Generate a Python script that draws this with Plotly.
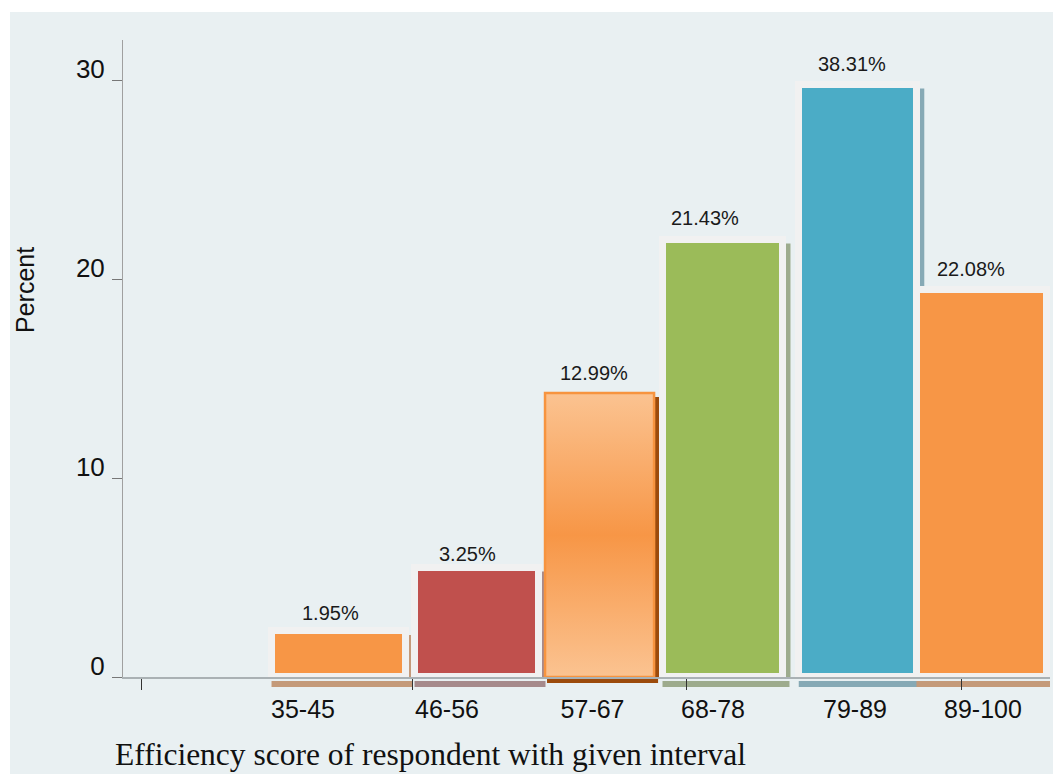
import plotly.graph_objects as go

# ---------------- data ----------------
categories = ["35-45", "46-56", "57-67", "68-78", "79-89", "89-100"]
bar_values = [2.31, 5.50, 14.27, 21.98, 29.77, 19.45]
bar_labels = ["1.95%", "3.25%", "12.99%", "21.43%", "38.31%", "22.08%"]
y_ticks = [0, 10, 20, 30]

# ---------------- layout / style ----------------
W, H = 1053, 774
ML, MR, MT, MB = 123, 3, 40, 97
PW, PH = W - ML - MR, H - MT - MB
x_range = [-1.68, 5.529]
y_range = [0, 32.01]
pxu = PW / (x_range[1] - x_range[0])
pyu = PH / (y_range[1] - y_range[0])

bar_pos = [0.0, 1.073, 2.026, 2.986, 4.036, 5.0]
bar_w = [1.042, 0.964, 0.848, 0.933, 0.914, 1.011]
gradient_bar = [False, False, True, False, False, False]
fill_colors = ["#f79646", "#c0504d", "#f79646", "#9bbb59", "#4bacc6", "#f79646"]
shadow_colors = ["#c49a7a", "#a68a8c", "#9c4b0c", "#9dab8d", "#86a9b5", "#c49a7a"]
frame_color = "#f1f1f1"
frame_px = 7
label_dx_px = [-9, -10, -6, -18, -6, -11]
label_dy_px = [5, 1, 7, 9, 8, 8]
ticklabel_dx_px = [-36, -30, -7, -10, -3, 1]
minor_ticks = [-1.54, 0.575, 2.706, 4.844]
panel_color = "#e9f0f2"
font_sans = "Arial, Liberation Sans, sans-serif"
font_serif = "Times New Roman, Liberation Serif, serif"

fig = go.Figure()

# framed bars (gradient bar drawn separately)
fig.add_trace(go.Bar(
    x=bar_pos, y=bar_values, width=bar_w,
    marker=dict(
        color=["rgba(0,0,0,0)" if g else c for g, c in zip(gradient_bar, fill_colors)],
        line=dict(color=frame_color, width=[0 if g else frame_px for g in gradient_bar]),
    ),
    hoverinfo="skip", showlegend=False,
))

shapes = [dict(type="rect", xref="paper", yref="paper",
               x0=(10 - ML) / PW, x1=(W - ML) / PW + 0.01,
               y0=-(MB + 5) / PH, y1=(PH + MT - 12) / PH,
               fillcolor=panel_color, line=dict(width=0), layer="below")]

for i in range(len(categories)):
    left = bar_pos[i] - bar_w[i] / 2
    right = bar_pos[i] + bar_w[i] / 2
    lw = 1 if gradient_bar[i] else frame_px / 2
    # drop shadow right of the bar
    shapes.append(dict(type="rect", xref="x", yref="y",
                       x0=left + 4 / pxu, x1=right + (lw + 4) / pxu,
                       y0=0, y1=bar_values[i] - 4 / pyu,
                       fillcolor=shadow_colors[i], line=dict(width=0), layer="below"))
    # shadow strip under the axis
    if gradient_bar[i]:
        y0, y1 = 0, -6
    else:
        y0, y1 = -4, -10
    shapes.append(dict(type="rect", xref="x", yref="paper", ysizemode="pixel", yanchor=0,
                       x0=left - lw / pxu + 3 / pxu, x1=right + (lw + 3) / pxu,
                       y0=y0, y1=y1,
                       fillcolor=shadow_colors[i], line=dict(width=0), layer="below"))
    if gradient_bar[i]:
        fig.add_trace(go.Scatter(
            x=[left, right, right, left, left],
            y=[0, 0, bar_values[i], bar_values[i], 0],
            mode="lines", fill="toself",
            fillgradient=dict(type="vertical",
                              colorscale=[[0, "#fbc391"], [0.5, "#f79646"], [1, "#fbc391"]]),
            line=dict(color="#f7943f", width=2.5),
            hoverinfo="skip", showlegend=False,
        ))

annotations = []
for i in range(len(categories)):
    annotations.append(dict(
        x=bar_pos[i], y=bar_values[i], xref="x", yref="y",
        text=bar_labels[i], showarrow=False, xanchor="center", yanchor="bottom",
        xshift=label_dx_px[i], yshift=label_dy_px[i],
        font=dict(family=font_sans, size=20, color="#1a1a1a"),
    ))

annotations.append(dict(
    x=(25 - ML) / PW, y=(PH + MT - 290) / PH, xref="paper", yref="paper",
    text="Percent", textangle=-90, showarrow=False, xanchor="center", yanchor="middle",
    font=dict(family=font_sans, size=25, color="#111111"),
))
annotations.append(dict(
    x=(113 - ML) / PW, y=(PH + MT - 735) / PH, xref="paper", yref="paper",
    text="Efficiency score of respondent with given interval", showarrow=False,
    xanchor="left", yanchor="top",
    font=dict(family=font_serif, size=31.5, color="#111111"),
))

tick_pos = [p + d / pxu for p, d in zip(bar_pos, ticklabel_dx_px)]

fig.update_layout(
    width=W, height=H,
    margin=dict(l=ML, r=MR, t=MT, b=MB, pad=0),
    paper_bgcolor="white", plot_bgcolor="rgba(0,0,0,0)",
    shapes=shapes, annotations=annotations,
    bargap=0, showlegend=False,
    xaxis=dict(
        range=x_range, showgrid=False, zeroline=False,
        showline=True, linecolor="#aab1b4", linewidth=2,
        tickmode="array", tickvals=tick_pos, ticktext=categories, ticks="",
        tickfont=dict(family=font_sans, size=25, color="#111111"),
        ticklabelstandoff=9,
        minor=dict(tickmode="array", tickvals=minor_ticks, ticks="outside",
                   ticklen=11, tickcolor="#333333", tickwidth=1),
    ),
    yaxis=dict(
        range=y_range, showgrid=False, zeroline=False,
        showline=True, linecolor="#a0a0a0", linewidth=1,
        tickmode="array", tickvals=y_ticks,
        ticks="outside", ticklen=10, tickcolor="#777777", tickwidth=1,
        tickfont=dict(family=font_sans, size=26, color="#111111"),
        ticklabelshift=-11, ticklabelstandoff=2,
    ),
)

fig.write_html("out.html")
